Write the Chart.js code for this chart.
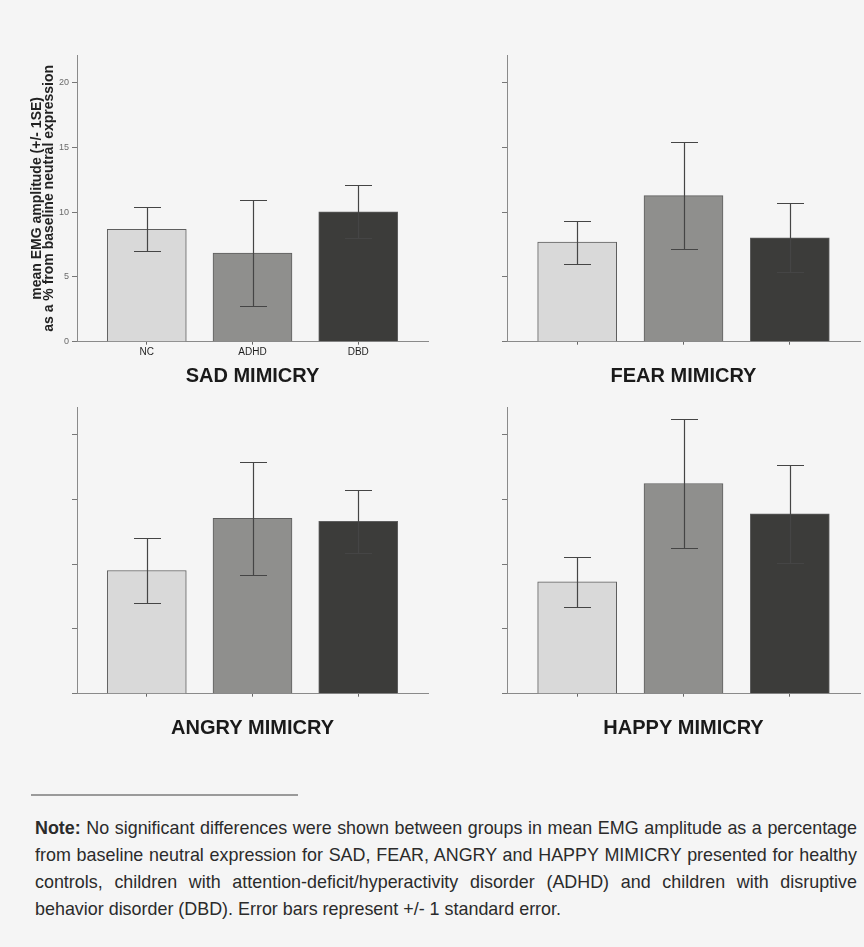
<!DOCTYPE html>
<html>
<head>
<meta charset="utf-8">
<script src="https://cdn.jsdelivr.net/npm/chart.js@4.4.1/dist/chart.umd.min.js"></script>
<style>
  html, body { margin: 0; padding: 0; background: #f5f5f5; }
  body { width: 864px; height: 947px; position: relative; overflow: hidden; }
  canvas.panel { position: absolute; }
  #rule { position: absolute; left: 31px; top: 794px; width: 267px; height: 2px; background: #9a9a9a; }
  #note { position: absolute; left: 35px; top: 814px; width: 822px;
          font-family: 'Liberation Sans', Arial, sans-serif;
          font-size: 19px; line-height: 27px; color: #2b2b2b;
          transform-origin: 0 0; }
  #note .ln { text-align: justify; text-align-last: justify; }
  #note .ln.last { text-align: left; text-align-last: left; }
</style>
</head>
<body>
<canvas id="sad" class="panel" width="432" height="355" style="left:0px;top:40px"></canvas>
<canvas id="fear" class="panel" width="432" height="355" style="left:430px;top:40px"></canvas>
<canvas id="angry" class="panel" width="432" height="355" style="left:0px;top:392px"></canvas>
<canvas id="happy" class="panel" width="432" height="355" style="left:430px;top:392px"></canvas>
<div id="rule"></div>
<div id="note">
  <div class="ln"><b>Note:</b> No significant differences were shown between groups in mean EMG amplitude as a percentage</div>
  <div class="ln">from baseline neutral expression for SAD, FEAR, ANGRY and HAPPY MIMICRY presented for healthy</div>
  <div class="ln">controls, children with attention-deficit/hyperactivity disorder (ADHD) and children with disruptive</div>
  <div class="ln last"><span id="lastText">behavior disorder (DBD). Error bars represent +/- 1 standard error.</span></div>
</div>
<script>
// Groups and tick values
const groups = ['NC', 'ADHD', 'DBD'];
const yTicks = [0, 5, 10, 15, 20];
const yAxisTitle = ['mean EMG amplitude (+/- 1SE)', 'as a % from baseline neutral expression'];

// Mean EMG amplitude (% from baseline) and standard errors per group
const sadMean = [8.68, 6.85, 10.04];
const sadSE = [1.70, 4.08, 2.03];
const fearMean = [7.69, 11.28, 8.03];
const fearSE = [1.66, 4.11, 2.65];
const angryMean = [9.52, 13.54, 13.31];
const angrySE = [2.48, 4.38, 2.45];
const happyMean = [8.65, 16.24, 13.90];
const happySE = [1.94, 5.00, 3.78];

const FONT = "'Liberation Sans', Arial, sans-serif";
Chart.defaults.font.family = FONT;

// The note is set in a narrow face: squeeze the text block horizontally so the
// closing (unjustified) line spans its 526px, and justify the other lines to 822px.
(function condenseNote() {
  const note = document.getElementById('note');
  const natural = document.getElementById('lastText').getBoundingClientRect().width;
  const k = 526 / natural;
  note.style.width = (822 / k) + 'px';
  note.style.transform = 'scaleX(' + k + ')';
})();

// Draws +/- 1 SE whiskers on top of each bar
const errorBars = {
  id: 'errorBars',
  afterDatasetsDraw(chart, args, opts) {
    const ctx = chart.ctx;
    const y = chart.scales.y;
    chart.data.datasets.forEach((ds, di) => {
      const meta = chart.getDatasetMeta(di);
      ctx.save();
      ctx.strokeStyle = opts.color;
      ctx.lineWidth = opts.width;
      meta.data.forEach((bar, i) => {
        const m = ds.data[i].y, se = ds.errors[i];
        const yTop = Math.round(y.getPixelForValue(m + se)) + 0.5;
        const yBot = Math.round(y.getPixelForValue(m - se)) + 0.5;
        const x = Math.round(bar.x) + 0.5;
        const half = opts.capWidth / 2;
        ctx.beginPath();
        ctx.moveTo(x, yTop); ctx.lineTo(x, yBot);
        ctx.moveTo(x - half, yTop); ctx.lineTo(x + half, yTop);
        ctx.moveTo(x - half, yBot); ctx.lineTo(x + half, yBot);
        ctx.stroke();
      });
      ctx.restore();
    });
  }
};

function makePanel(id, title, means, errors, showLabels, rightPad) {
  return new Chart(document.getElementById(id), {
    type: 'bar',
    data: {
      datasets: [{
        data: means.map((m, i) => ({ x: i, y: m })),
        errors: errors,
        backgroundColor: ['#d9d9d9', '#8f8f8d', '#3c3c3a'],
        borderColor: '#5e5e5e',
        borderWidth: 1,
        barThickness: 79
      }]
    },
    options: {
      responsive: false,
      animation: false,
      devicePixelRatio: 1,
      layout: { padding: { top: 15, right: rightPad, left: 0, bottom: 0 } },
      plugins: {
        legend: { display: false },
        tooltip: { enabled: false },
        errorBars: { color: '#454545', width: 1.2, capWidth: 27 }
      },
      scales: {
        x: {
          type: 'linear',
          offset: false,
          min: -0.66,
          max: 2.66,
          afterBuildTicks: s => { s.ticks = groups.map((g, i) => ({ value: i })); },
          afterFit: s => { s.height = 53.3; },
          ticks: {
            display: showLabels,
            callback: v => groups[v],
            font: { size: 10 },
            color: '#1e1e1e',
            padding: 2,
            autoSkip: false,
            maxRotation: 0
          },
          grid: { offset: false, drawOnChartArea: false, drawTicks: true, tickLength: 3, color: '#666' },
          border: { display: true, color: '#8a8a8a', width: 1 },
          title: {
            display: true,
            text: title,
            font: { size: 20, weight: 'bold' },
            color: '#1a1a1a',
            padding: { top: 0, bottom: 6.5 }
          }
        },
        y: {
          min: 0,
          max: 22.15,
          afterBuildTicks: s => { s.ticks = yTicks.map(v => ({ value: v })); },
          afterFit: s => { s.width = 77; },
          ticks: { display: showLabels, font: { size: 9 }, color: '#6a6a6a', padding: 3 },
          grid: { drawOnChartArea: false, drawTicks: true, tickLength: 5, color: '#777' },
          border: { display: true, color: '#8a8a8a', width: 1 },
          title: {
            display: showLabels,
            text: yAxisTitle,
            font: { size: 14, weight: 'bold', lineHeight: 0.88 },
            color: '#222',
            padding: { top: 30.5, bottom: 0 }
          }
        }
      }
    },
    plugins: [errorBars]
  });
}

makePanel('sad', 'SAD MIMICRY', sadMean, sadSE, true, 4);
makePanel('fear', 'FEAR MIMICRY', fearMean, fearSE, false, 2);
makePanel('angry', 'ANGRY MIMICRY', angryMean, angrySE, false, 4);
makePanel('happy', 'HAPPY MIMICRY', happyMean, happySE, false, 2);
</script>
</body>
</html>
